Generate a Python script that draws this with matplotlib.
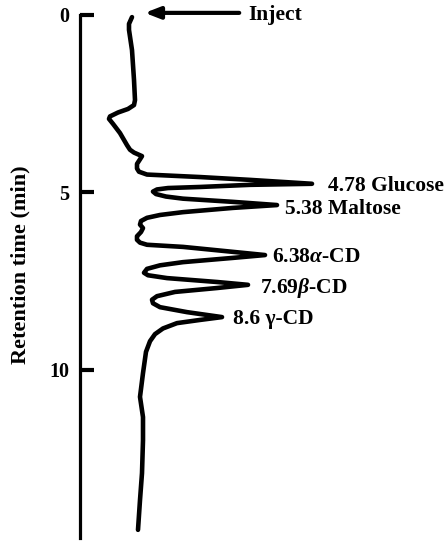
import matplotlib.pyplot as plt
import numpy as np

plt.rcParams['font.family'] = ['Liberation Serif', 'DejaVu Serif']
plt.rcParams['font.weight'] = 'bold'
plt.rcParams['mathtext.fontset'] = 'custom'
plt.rcParams['mathtext.rm'] = 'Liberation Serif:bold'
plt.rcParams['mathtext.it'] = 'Liberation Serif:italic:bold'

# chromatogram trace: retention time (min) and detector signal (arb.)
time = [0.06, 0.25, 0.42, 0.99, 1.83, 2.40, 2.54, 2.65, 2.75, 2.86, 2.93, 3.07,
        3.33, 3.67, 3.80, 3.88, 3.93, 3.98, 4.07, 4.20, 4.33, 4.42, 4.50, 4.57,
        4.65, 4.76, 4.79, 4.85, 4.88, 4.92, 4.98, 5.05, 5.12, 5.18, 5.27, 5.36,
        5.44, 5.56, 5.64, 5.72, 5.81, 5.91, 6.01, 6.12, 6.24, 6.34, 6.42, 6.48,
        6.54, 6.68, 6.77, 6.85, 6.97, 7.06, 7.16, 7.27, 7.34, 7.42, 7.53, 7.61,
        7.70, 7.81, 7.93, 8.03, 8.13, 8.24, 8.38, 8.52, 8.60, 8.69, 8.84, 9.00,
        9.20, 9.50, 10.10, 10.77, 11.34, 11.99, 12.92, 13.68, 14.52]
signal = [52, 49, 49, 52, 54, 55, 54, 48, 38, 30, 29, 33,
          40, 47, 50, 54, 58, 62, 60, 57, 57, 59, 67, 120,
          170, 232, 170, 120, 88, 77, 73, 76, 86, 103, 153, 197,
          153, 103, 80, 67, 61, 60, 63, 61, 57, 57, 60, 67,
          103, 153, 185, 153, 103, 80, 67, 64, 68, 87, 137, 168,
          137, 95, 77, 72, 73, 80, 107, 142, 120, 97, 83, 75,
          70, 66, 63, 60, 63, 63, 62, 60, 58]

yticks = [0, 5, 10]
ylabel = 'Retention time (min)'

peak_labels = ['4.78 Glucose', '5.38 Maltose', r'6.38$\alpha$-CD',
               r'7.69$\beta$-CD', '8.6 γ-CD']
label_time = [4.82, 5.47, 6.82, 7.70, 8.57]
label_signal = [248, 205, 192, 180, 153]

fig = plt.figure(figsize=(4.48, 5.42), dpi=100)
ax = fig.add_axes([80 / 448, 1 - 538 / 542, 368 / 448, 523 / 542])

ax.plot(signal, time, color='black', linewidth=3.3,
        solid_joinstyle='round', solid_capstyle='round', clip_on=False)

ax.set_ylim(14.75, 0)
ax.set_xlim(0, 368)

for s in ['top', 'right', 'bottom']:
    ax.spines[s].set_visible(False)
ax.spines['left'].set_linewidth(2.3)
ax.spines['left'].set_bounds(0, 14.75)
ax.set_xticks([])
ax.set_yticks(yticks)
ax.tick_params(axis='y', direction='in', length=10, width=3, pad=8,
               labelsize=14.5)
for lab in ax.get_yticklabels():
    lab.set_fontweight('bold')

ax.set_ylabel(ylabel, fontsize=16, fontweight='bold')
ax.yaxis.set_label_coords(-0.135, 0.522)

# inject arrow
ax.annotate('', xy=(62, -0.06), xytext=(162, -0.06),
            arrowprops=dict(arrowstyle='-|>,head_length=0.9,head_width=0.35',
                            color='black', lw=3), annotation_clip=False)
ax.text(168, 0.0, 'Inject', fontsize=15.5, fontweight='bold',
        ha='left', va='center', clip_on=False)

for lab, t, s in zip(peak_labels, label_time, label_signal):
    ax.text(s, t, lab, fontsize=15.5, fontweight='bold', ha='left', va='center')

fig.savefig('out.png', dpi=100)
